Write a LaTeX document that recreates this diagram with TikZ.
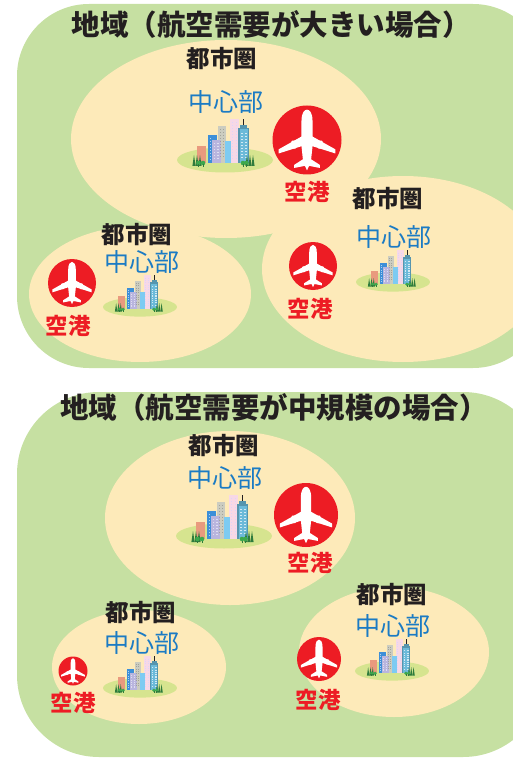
\documentclass[tikz,border=0pt]{standalone}
\usepackage{fontspec}
\newfontfamily\jp{Noto Sans CJK JP}
\usetikzlibrary{shapes.geometric}

\definecolor{regiongreen}{HTML}{C6E0A2}
\definecolor{metrocream}{HTML}{FDEAB9}
\definecolor{airred}{HTML}{ED1C24}
\definecolor{coreblue}{HTML}{1B7BC4}
\definecolor{inkdark}{HTML}{231F20}
\definecolor{lawn}{HTML}{D6E48F}
\definecolor{bsalmon}{HTML}{E99A7E}
\definecolor{bblue}{HTML}{3D8FD8}
\definecolor{blavender}{HTML}{B9B5DE}
\definecolor{bgray}{HTML}{CBCCC0}
\definecolor{blight}{HTML}{7DCBF2}
\definecolor{bpink}{HTML}{F7D8E6}
\definecolor{bteal}{HTML}{6CBAD9}
\definecolor{treedark}{HTML}{2E7B3C}
\definecolor{treelight}{HTML}{3DA84C}

\tikzset{
  region/.style={fill=regiongreen, draw=none},
  metro/.style={ellipse, fill=metrocream, draw=none, inner sep=0pt},
  port/.style={circle, fill=airred, draw=none, inner sep=0pt},
  lawnpatch/.style={ellipse, fill=lawn, draw=none, inner sep=0pt},
  titletext/.style={font=\jp\bfseries\fontsize{28.5}{30}\selectfont, text=inkdark, inner sep=0pt},
  metrotext/.style={font=\jp\bfseries\fontsize{23.5}{25}\selectfont, text=inkdark, inner sep=0pt},
  coretext/.style={font=\jp\fontsize{25}{27}\selectfont, text=coreblue, inner sep=0pt},
  porttext/.style={font=\jp\bfseries\fontsize{22.5}{24}\selectfont, text=airred, inner sep=0pt},
  % white airliner seen from above, nose up, unit = circle radius
  plane/.pic={
    \fill[white] (-0.16,-0.55) .. controls (-0.16,-0.8) and (-0.07,-0.88) .. (0,-0.88)
      .. controls (0.07,-0.88) and (0.16,-0.8) .. (0.16,-0.55)
      -- (0.16,-0.1) -- (0.82,0.27) -- (0.82,0.39) -- (0.16,0.18)
      -- (0.12,0.56) -- (0.37,0.72) -- (0.37,0.81) -- (0.06,0.75)
      -- (0,0.88) -- (-0.06,0.75) -- (-0.37,0.81) -- (-0.37,0.72)
      -- (-0.12,0.56) -- (-0.16,0.18) -- (-0.82,0.39) -- (-0.82,0.27)
      -- (-0.16,-0.1) -- cycle;
    \fill[white, rounded corners=0.6pt] (0.32,0.02) rectangle (0.45,0.25);
    \fill[white, rounded corners=0.6pt] (-0.45,0.02) rectangle (-0.32,0.25);
  },
  % small cluster of towers on a lawn, unit = 1px at full size
  city/.pic={
    \fill[lawn] (0,0) ellipse [x radius=48pt, y radius=12.5pt];
    \fill[bgray] (-7,-34) rectangle (1,3);
    \fill[bpink] (5,-41) rectangle (14,3);
    \fill[bblue] (-17,-25) rectangle (-8,3);
    \fill[bsalmon] (-28,-14) rectangle (-19,3);
    \fill[blavender] (-13,-20) rectangle (-4,3);
    \fill[blight] (0,-19) rectangle (6,3);
    \fill[bteal!80!black] (13,-32) rectangle (24,3);
    \fill[bteal] (14.5,-30.5) rectangle (22.5,3);
    \fill[bteal!80!black] (15,-35) rectangle (22,-32);
    \fill[inkdark] (17.8,-41) rectangle (19.4,-35);
    \foreach \wy in {-27,-24,...,-3} {
      \fill[white!70!bteal] (15.5,\wy) rectangle (17.5,\wy+1.4);
      \fill[white!70!bteal] (19.5,\wy) rectangle (21.5,\wy+1.4);
    }
    \foreach \wy in {-22,-19,...,-1} {
      \fill[white!60!bblue] (-15.5,\wy) rectangle (-13.8,\wy+1.4);
    }
    \foreach \wy in {-17,-14,...,-1} {
      \fill[white!55!blavender] (-11.5,\wy) rectangle (-9.8,\wy+1.4);
      \fill[white!55!blavender] (-8,\wy) rectangle (-6.3,\wy+1.4);
    }
    \foreach \wy in {-38,-35,...,-2} {
      \fill[bpink!70!blue!40] (7,\wy) rectangle (8,\wy+1);
      \fill[bpink!70!blue!40] (10.5,\wy) rectangle (11.5,\wy+1);
    }
    \foreach \wy in {-31,-28,...,-2} {
      \fill[bgray!80!black] (-5,\wy) rectangle (-4,\wy+1);
      \fill[bgray!80!black] (-2,\wy) rectangle (-1,\wy+1);
    }
    \foreach \tx in {-31,-28,-25,22,25,28} {
      \fill[treedark] (\tx-1.6,6) -- (\tx,-5) -- (\tx+1.6,6) -- cycle;
    }
    \foreach \tx in {-26.5,-22,18,21.5} {
      \fill[treelight] (\tx,3) circle [radius=2.3pt];
      \fill[treedark] (\tx-0.3,4.5) rectangle (\tx+0.3,7);
    }
  }
}

\begin{document}
\begin{tikzpicture}[x=1pt, y=-1pt]
\useasboundingbox (0,0) rectangle (513,759);
\clip (0,0) rectangle (513,759);

% ---------- region with large air demand ----------
\fill[region, rounded corners=72pt] (17,4) rectangle (545,368);
\node[metro, minimum width=310pt, minimum height=198pt] (mA) at (226,139) {};
\node[metro, minimum width=222pt, minimum height=136pt] (mB) at (140,294) {};
\node[metro, minimum width=282pt, minimum height=186pt] (mC) at (403,269) {};

\node[titletext] (tA) at (271,24) {地域（航空需要が大きい場合）};

\node[metrotext] (uA) at (222,59) {都市圏};
\node[coretext] (cA) at (226,102) {中心部};
\node[lawnpatch, minimum width=0pt] (gA) at (225,160) {};
\pic[scale=1] at (gA) {city};
\node[port, minimum size=69pt] (aA) at (307,140) {};
\pic[scale=34.5] at (aA.center) {plane};
\node[porttext] (pA) at (307,192) {空港};

\node[metrotext] (uB) at (137,235) {都市圏};
\node[coretext] (cB) at (142,262) {中心部};
\node[lawnpatch, minimum width=0pt] (gB) at (140,307) {};
\pic[scale=0.77] at (gB) {city};
\node[port, minimum size=48pt] (aB) at (72,283) {};
\pic[scale=24] at (aB.center) {plane};
\node[porttext] (pB) at (68,326) {空港};

\node[metrotext] (uC) at (388,199) {都市圏};
\node[coretext] (cC) at (394,237) {中心部};
\node[lawnpatch, minimum width=0pt] (gC) at (393,282) {};
\pic[scale=0.77] at (gC) {city};
\node[port, minimum size=48pt] (aC) at (313,266) {};
\pic[scale=24] at (aC.center) {plane};
\node[porttext] (pC) at (310,309) {空港};

% ---------- region with medium air demand ----------
\fill[region, rounded corners=82pt] (17,392) rectangle (545,757);
\node[metro, minimum width=250pt, minimum height=174pt] (mD) at (230,518) {};
\node[metro, minimum width=174pt, minimum height=114pt] (mE) at (139,667) {};
\node[metro, minimum width=190pt, minimum height=130pt] (mF) at (394,652) {};

\node[titletext] (tD) at (274,407) {地域（航空需要が中規模の場合）};

\node[metrotext] (uD) at (224,446) {都市圏};
\node[coretext] (cD) at (225,478) {中心部};
\node[lawnpatch, minimum width=0pt] (gD) at (224,536) {};
\pic[scale=1] at (gD) {city};
\node[port, minimum size=64pt] (aD) at (306,515) {};
\pic[scale=32] at (aD.center) {plane};
\node[porttext] (pD) at (310,563) {空港};

\node[metrotext] (uE) at (141,613) {都市圏};
\node[coretext] (cE) at (142,643) {中心部};
\node[lawnpatch, minimum width=0pt] (gE) at (140,688) {};
\pic[scale=0.77] at (gE) {city};
\node[port, minimum size=29pt] (aE) at (73,671) {};
\pic[scale=14.5] at (aE.center) {plane};
\node[porttext] (pE) at (73,703) {空港};

\node[metrotext] (uF) at (392,595) {都市圏};
\node[coretext] (cF) at (393,626) {中心部};
\node[lawnpatch, minimum width=0pt] (gF) at (392,671) {};
\pic[scale=0.77] at (gF) {city};
\node[port, minimum size=44pt] (aF) at (319,659) {};
\pic[scale=22] at (aF.center) {plane};
\node[porttext] (pF) at (318,700) {空港};
\end{tikzpicture}
\end{document}
